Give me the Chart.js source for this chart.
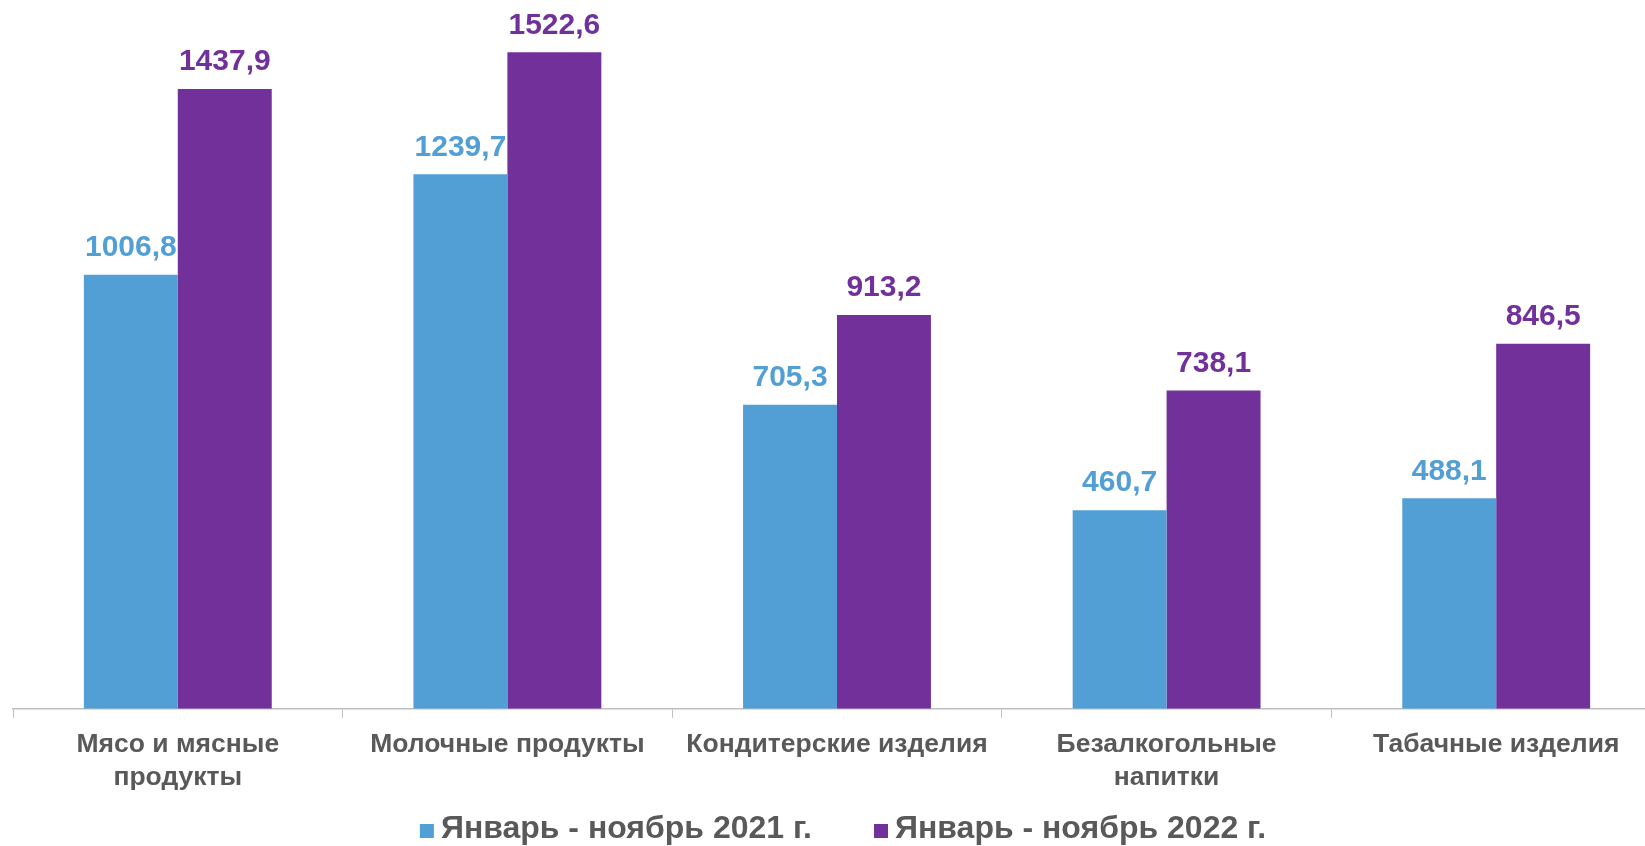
<!DOCTYPE html>
<html>
<head>
<meta charset="utf-8">
<script src="https://cdn.jsdelivr.net/npm/chart.js@4/dist/chart.umd.min.js"></script>
<style>
    html, body { margin: 0; padding: 0; background: #fff; overflow: hidden; }
    /* the original plot runs a little past the right edge of the picture */
    #wrap { width: 1661px; height: 846px; }
</style>
</head>
<body>
<div id="wrap"><canvas id="chart"></canvas></div>
<script>
const categories = [
    ['Мясо и мясные', 'продукты'],
    'Молочные продукты',
    'Кондитерские изделия',
    ['Безалкогольные', 'напитки'],
    'Табачные изделия'
]
const values2021 = [1006.8, 1239.7, 705.3, 460.7, 488.1]
const values2022 = [1437.9, 1522.6, 913.2, 738.1, 846.5]
const seriesNames = ['Январь - ноябрь 2021 г.', 'Январь - ноябрь 2022 г.']

const blue   = '#529FD6'
const purple = '#72309A'
const gray   = '#595959'
const font   = "'Liberation Sans', Arial, sans-serif"

// value labels over bars, comma as decimal mark
const barLabels = {
    id: 'barLabels',
    afterDatasetsDraw(chart) {
        const ctx = chart.ctx
        ctx.save()
        ctx.font = `bold 30px ${font}`
        ctx.textAlign = 'center'
        ctx.textBaseline = 'middle'
        chart.data.datasets.forEach((ds, i) => {
            chart.getDatasetMeta(i).data.forEach((bar, j) => {
                ctx.fillStyle = ds.backgroundColor
                ctx.fillText(ds.data[j].toFixed(1).replace('.', ','), bar.x, bar.y - 27)
            })
        })
        ctx.restore()
    }
}

// legend at the bottom, drawn by hand to get the tight spacing of the original
const bottomLegend = {
    id: 'bottomLegend',
    afterDraw(chart) {
        const ctx   = chart.ctx
        const box   = 14
        const gap   = 7
        const space = 62
        const y     = 829
        ctx.save()
        ctx.font = `bold 32px ${font}`
        ctx.textBaseline = 'middle'
        const items = chart.data.datasets.map(ds => ({ text: ds.label, color: ds.backgroundColor, w: ctx.measureText(ds.label).width }))
        const total = items.reduce((s, it) => s + box + gap + it.w, 0) + space * (items.length - 1)
        let x = 843 - total / 2
        items.forEach(it => {
            ctx.fillStyle = it.color
            ctx.fillRect(x, y - box / 2 + 2, box, box)
            ctx.fillStyle = gray
            ctx.fillText(it.text, x + box + gap, y)
            x += box + gap + it.w + space
        })
        ctx.restore()
    }
}

new Chart(document.getElementById('chart'), {
    type: 'bar',
    data: {
        labels: categories,
        datasets: [
            { label: seriesNames[0], data: values2021, backgroundColor: blue },
            { label: seriesNames[1], data: values2022, backgroundColor: purple }
        ]
    },
    options: {
        responsive: true,
        maintainAspectRatio: false,
        animation: false,
        layout: { padding: { left: 13, right: 0, top: 19, bottom: 42 } },
        datasets: { bar: { barPercentage: 1, categoryPercentage: 0.57 } },
        scales: {
            x: {
                grid: { display: true, drawOnChartArea: false, offset: true, tickLength: 9, color: '#BFBFBF' },
                border: { color: '#BFBFBF', width: 1.5 },
                ticks: { color: gray, font: { family: font, size: 26.5, weight: 'bold', lineHeight: 1.25 }, padding: 10, maxRotation: 0, autoSkip: false }
            },
            y: { display: false, min: 0, max: 1600 }
        },
        plugins: {
            legend: { display: false },
            tooltip: { enabled: false }
        }
    },
    plugins: [barLabels, bottomLegend]
})
</script>
</body>
</html>
